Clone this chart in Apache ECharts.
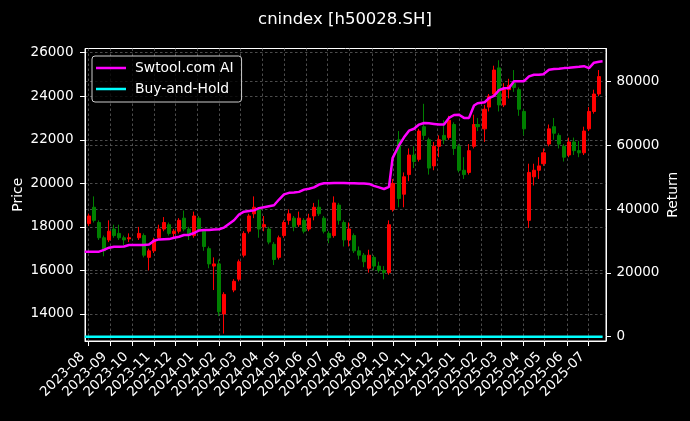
<!DOCTYPE html>
<html><head><meta charset="utf-8">
<script src="https://cdn.jsdelivr.net/npm/echarts@6/dist/echarts.min.js"></script>
<style>html,body{margin:0;padding:0;background:#000;}#c{width:690px;height:421px;}</style>
</head><body><div id="c"></div>
<script>
// weekly candles (mid-week dates)
const weekDates = [
'2023-08-02','2023-08-09','2023-08-16','2023-08-23','2023-08-30','2023-09-06','2023-09-13','2023-09-20','2023-09-27',
'2023-10-11','2023-10-18','2023-10-25','2023-11-01','2023-11-08','2023-11-15','2023-11-22','2023-11-29','2023-12-06',
'2023-12-13','2023-12-20','2023-12-27','2024-01-03','2024-01-10','2024-01-17','2024-01-24','2024-01-31','2024-02-07',
'2024-02-21','2024-02-28','2024-03-06','2024-03-13','2024-03-20','2024-03-27','2024-04-03','2024-04-10','2024-04-17',
'2024-04-24','2024-05-01','2024-05-08','2024-05-15','2024-05-22','2024-05-29','2024-06-05','2024-06-12','2024-06-19',
'2024-06-26','2024-07-03','2024-07-10','2024-07-17','2024-07-24','2024-07-31','2024-08-07','2024-08-14','2024-08-21',
'2024-08-28','2024-09-04','2024-09-11','2024-09-18','2024-09-25','2024-09-30','2024-10-09','2024-10-16','2024-10-23',
'2024-10-30','2024-11-06','2024-11-13','2024-11-20','2024-11-27','2024-12-04','2024-12-11','2024-12-18','2024-12-25',
'2025-01-01','2025-01-08','2025-01-15','2025-01-22','2025-01-27','2025-02-06','2025-02-12','2025-02-19','2025-02-26',
'2025-03-05','2025-03-12','2025-03-19','2025-03-26','2025-04-02','2025-04-09','2025-04-16','2025-04-23','2025-04-29',
'2025-05-07','2025-05-14','2025-05-21','2025-05-28','2025-06-04','2025-06-11','2025-06-18','2025-06-25','2025-07-02',
'2025-07-09','2025-07-16'];
const openP = [18150,18900,18200,17500,17400,17900,17700,17500,17450,
17500,17600,16600,16900,17500,17900,18100,17700,17800,
18400,17900,17600,18400,17800,17000,16200,16300,14000,
15100,15600,16700,17800,18600,18800,18000,17900,17200,
16600,17600,18300,18400,18100,18300,17900,18500,18900,
18400,17700,17600,19000,18200,17400,17600,16900,16700,
16100,16600,16200,16000,15900,18800,22000,19500,20400,
21300,21100,22600,22000,20800,21700,22200,22100,22700,
21700,20600,20500,21700,22700,22500,23500,24100,25300,
23600,24300,24600,24300,23300,18300,20300,20600,20900,
21800,22600,22200,21700,21300,21900,21500,21400,22500,
23300,24100];
const closeP = [18500,18300,17500,16900,17800,17600,17500,17400,17500,
17700,16700,16900,17400,17900,18200,17700,17800,18300,
17900,17600,18500,17900,17100,16300,16300,14100,14900,
15500,16400,17700,18500,18900,17900,18100,17300,16500,
17500,18200,18600,18000,18400,17800,18400,18900,18600,
17800,17500,19100,18300,17400,17900,16900,16700,16400,
16700,16200,16000,15900,18100,20000,19300,20300,21300,
21000,22400,22200,20700,21700,22000,22000,22900,21600,
20600,20400,21500,22700,22600,23400,24000,25200,23600,
24300,24500,24400,23400,22500,20500,20600,20800,21400,
22500,22300,21800,21200,21900,21500,21400,22400,23300,
24100,24900];
const lowP = [18050,18200,17400,16650,17300,17500,17400,17150,17300,
17400,16600,16000,16800,17400,17800,17600,17500,17700,
17800,17400,17500,17800,16900,16100,15100,13900,13100,
15000,15500,16600,17700,18400,17500,17800,17200,16250,
16500,17500,18100,17800,18000,17700,17800,18300,18500,
17700,17250,17500,18100,17100,17100,16800,16500,16150,
15900,16000,15900,15590,15800,18700,18900,18900,20100,
20700,21000,22000,20400,20600,21200,21800,22000,21300,
20500,20200,20400,21600,22400,21900,23300,24000,23300,
23500,23900,24200,23100,22200,17950,19900,20200,20800,
21700,22000,21600,21000,21200,21300,21200,21300,22400,
23200,24000];
const highP = [18600,19400,18300,17600,18300,18100,18100,17600,17700,
18000,17700,17000,17500,18100,18450,18200,17900,18400,
18750,18000,18700,18500,17900,17100,16600,16500,15000,
15600,16500,17800,18600,19400,18900,18500,18000,17300,
17600,18300,18800,18500,18700,18400,18600,19100,19250,
18500,17800,19400,19100,18300,18200,17700,17100,16800,
16950,16700,16400,16200,18300,20200,22400,20500,21600,
21700,22500,23650,22100,21900,22200,22900,23100,22800,
21800,21200,21800,23150,23000,23600,24100,25400,25650,
24600,24800,25200,24400,23400,20900,20900,21200,21600,
22700,23000,22300,21800,22100,22100,21950,22600,23500,
24300,25200];
// strategy return (right axis): first date, each week, last date
const startDate = '2023-07-27';
const endDate = '2025-07-21';
const aiReturn = [26650,
26650,26650,26650,27200,27900,28200,28200,28300,28750,
28750,28750,28900,30100,30500,30550,30600,31000,31350,
31880,31900,32500,33300,33450,33450,33600,33700,34200,
36500,38300,39200,39400,39600,40300,40600,40900,41200,
43000,44600,45100,45200,45400,46100,46400,46800,47700,
48100,48100,48150,48200,48150,48100,48100,48000,48000,
47900,47300,46800,46300,47000,56000,60000,62500,64600,
65200,66500,67000,66900,66700,66500,66500,68600,69500,
69600,68600,68600,72500,73200,73500,74800,75500,77300,
77900,78000,80100,80100,80100,81600,82100,82100,82300,
83700,83900,84000,84200,84300,84500,84600,84800,84200,
85900,86200,
86330];
const bhDates = [startDate, endDate];
const bhReturn = [0, 0];
const monthTicks = ['2023-08-01','2023-09-01','2023-10-01','2023-11-01','2023-12-01','2024-01-01','2024-02-01','2024-03-01',
'2024-04-01','2024-05-01','2024-06-01','2024-07-01','2024-08-01','2024-09-01','2024-10-01','2024-11-01','2024-12-01',
'2025-01-01','2025-02-01','2025-03-01','2025-04-01','2025-05-01','2025-06-01','2025-07-01'];
const priceTicks = [14000,16000,18000,20000,22000,24000,26000];
const returnTicks = [0,20000,40000,60000,80000];

const FONT = 'DejaVu Sans';
const ts = s => new Date(s + 'T00:00:00').getTime();
const monthTs = monthTicks.map(ts);
const candleData = weekDates.map((d,i)=>[ts(d), openP[i], closeP[i], lowP[i], highP[i]]);
const aiDates = [startDate].concat(weekDates, [endDate]);
const aiData = aiDates.map((d,i)=>[ts(d), aiReturn[i]]);
const bhData = bhDates.map((d,i)=>[ts(d), bhReturn[i]]);
const splitStyle = {show:true, lineStyle:{color:'#5e5e5e', type:[2.5,2.5], width:0.8}};
const plain = v => String(v);
const chart = echarts.init(document.getElementById('c'), null, {renderer:'canvas'});
chart.setOption({
  backgroundColor:'#000',
  animation:false,
  title:{text:'cnindex [h50028.SH]', left:'center', top:6, textStyle:{color:'#fff', fontSize:16.5, fontWeight:'normal', fontFamily:FONT}},
  legend:{
    orient:'vertical', left:92, top:56, data:['Swtool.com AI','Buy-and-Hold'],
    icon:'rect', itemWidth:30, itemHeight:2.5, itemGap:7,
    backgroundColor:'rgba(0,0,0,0.8)', borderColor:'#cccccc', borderWidth:1, borderRadius:3,
    padding:[5,8,6,4],
    textStyle:{color:'#fff', fontSize:13.9, fontFamily:FONT, padding:[0,0,0,4]}
  },
  grid:{left:85, right:84, top:48.5, bottom:80, show:true, borderColor:'#fff', borderWidth:1,
        backgroundColor:'transparent', containLabel:false, outerBoundsMode:'none'},
  xAxis:{
    type:'value', scale:true,
    min:new Date(2023,6,27,9).getTime(), max:new Date(2025,6,25,19).getTime(),
    axisLine:{show:true, onZero:false, lineStyle:{color:'#fff', width:1}},
    axisTick:{show:true, customValues:monthTs, length:5, lineStyle:{color:'#fff'}},
    axisLabel:{customValues:monthTs, rotate:45, color:'#fff', fontSize:13.5, fontFamily:FONT, margin:8, padding:[0,8,0,0],
      formatter:function(v){const d=new Date(v);return d.getFullYear()+'-'+String(d.getMonth()+1).padStart(2,'0');}},
    splitLine:splitStyle
  },
  yAxis:[{
    type:'value', position:'left', min:12760, max:26190,
    name:'Price', nameLocation:'middle', nameGap:60, nameRotate:90, nameMoveOverlap:false,
    nameTextStyle:{color:'#fff', fontSize:13.9, fontFamily:FONT},
    axisLine:{show:true, lineStyle:{color:'#fff'}},
    axisTick:{show:true, customValues:priceTicks, length:5, lineStyle:{color:'#fff'}},
    axisLabel:{customValues:priceTicks, color:'#fff', fontSize:13.5, fontFamily:FONT, margin:11.5, formatter:plain},
    splitLine:splitStyle
  },{
    type:'value', position:'right', min:-1350, max:90350,
    name:'Return', nameLocation:'middle', nameGap:60, nameRotate:90, nameMoveOverlap:false,
    nameTextStyle:{color:'#fff', fontSize:13.9, fontFamily:FONT},
    axisLine:{show:true, lineStyle:{color:'#fff'}},
    axisTick:{show:true, customValues:returnTicks, length:5, lineStyle:{color:'#fff'}},
    axisLabel:{customValues:returnTicks, color:'#fff', fontSize:13.5, fontFamily:FONT, margin:10.5, formatter:plain},
    splitLine:splitStyle
  }],
  series:[
    {name:'Price', type:'candlestick', data:candleData, barWidth:4, yAxisIndex:0,
     itemStyle:{color:'#ff0000', color0:'#008000', borderColor:'#ff0000', borderColor0:'#008000', borderWidth:1}, z:2},
    {name:'Swtool.com AI', type:'line', yAxisIndex:1, data:aiData, showSymbol:false, symbol:'none',
     lineStyle:{color:'#ff00ff', width:2.5}, itemStyle:{color:'#ff00ff'}, z:4},
    {name:'Buy-and-Hold', type:'line', yAxisIndex:1, data:bhData, showSymbol:false, symbol:'none',
     lineStyle:{color:'#00ffff', width:2.5}, itemStyle:{color:'#00ffff'}, z:3}
  ]
});
</script></body></html>
